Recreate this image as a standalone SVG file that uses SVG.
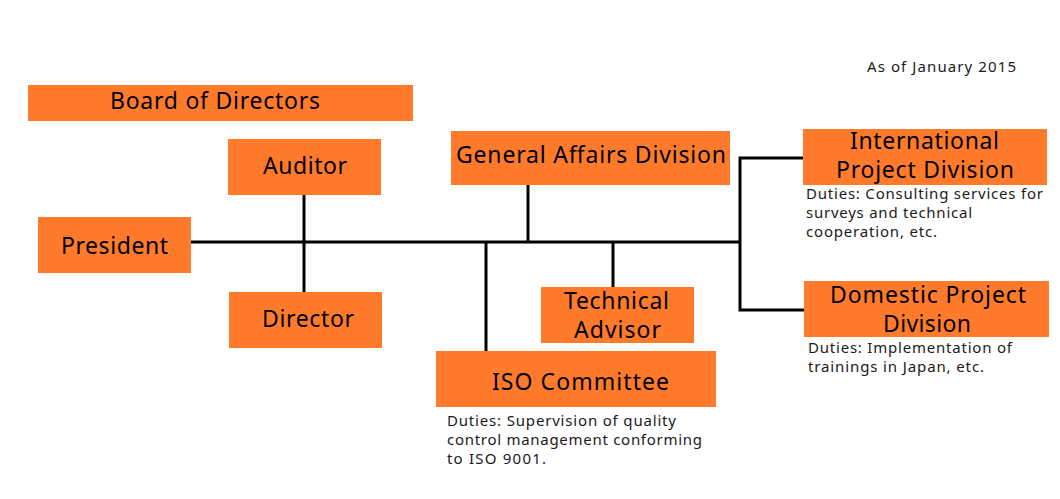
<svg xmlns="http://www.w3.org/2000/svg" width="1060" height="499" viewBox="0 0 1060 499">
<style>
.box{fill:#FF7A2B}
.lbl{font-family:"Noto Sans","DejaVu Sans",sans-serif;font-size:23px;fill:#000}
.note{font-family:"Noto Sans","DejaVu Sans",sans-serif;font-size:15px;fill:#1a1a1a}
.ln{stroke:#000;stroke-width:3;fill:none}
</style>
<rect width="1060" height="499" fill="#fff"/>
<text class="note" x="867" y="72" textLength="149">As of January 2015</text>
<g id="connectors">
<path class="ln" d="M191 242H740"/>
<path class="ln" d="M304 195V292"/>
<path class="ln" d="M528 185V242"/>
<path class="ln" d="M486 242V351"/>
<path class="ln" d="M613 242V287"/>
<path class="ln" d="M803 158H740V310H804"/>
</g>
<g id="board">
<rect class="box" x="28" y="85" width="385" height="36"/>
<text class="lbl" x="110" y="109" textLength="210">Board of Directors</text>
</g>
<g id="auditor">
<rect class="box" x="228" y="139" width="153" height="56"/>
<text class="lbl" x="263" y="174" textLength="84">Auditor</text>
</g>
<g id="president">
<rect class="box" x="38" y="217" width="153" height="56"/>
<text class="lbl" x="61" y="254" textLength="107">President</text>
</g>
<g id="director">
<rect class="box" x="229" y="292" width="153" height="56"/>
<text class="lbl" x="262" y="327" textLength="92">Director</text>
</g>
<g id="general-affairs">
<rect class="box" x="451" y="131" width="279" height="54"/>
<text class="lbl" x="456" y="163" textLength="270">General Affairs Division</text>
</g>
<g id="technical-advisor">
<rect class="box" x="541" y="287" width="153" height="56"/>
<text class="lbl" x="564" y="309" textLength="105">Technical</text>
<text class="lbl" x="574" y="338" textLength="87">Advisor</text>
</g>
<g id="iso-committee">
<rect class="box" x="436" y="351" width="280" height="56"/>
<text class="lbl" x="492" y="390" textLength="177">ISO Committee</text>
<text class="note" x="447" y="426" textLength="229">Duties: Supervision of quality</text>
<text class="note" x="447" y="445" textLength="255">control management conforming</text>
<text class="note" x="447" y="464" textLength="99">to ISO 9001.</text>
</g>
<g id="international">
<rect class="box" x="803" y="129" width="244" height="56"/>
<text class="lbl" x="850" y="149" textLength="149">International</text>
<text class="lbl" x="836" y="178" textLength="178">Project Division</text>
<text class="note" x="806" y="199" textLength="237">Duties: Consulting services for</text>
<text class="note" x="806" y="218" textLength="166">surveys and technical</text>
<text class="note" x="806" y="237" textLength="131">cooperation, etc.</text>
</g>
<g id="domestic">
<rect class="box" x="804" y="281" width="245" height="56"/>
<text class="lbl" x="830" y="303" textLength="196">Domestic Project</text>
<text class="lbl" x="883" y="332" textLength="88">Division</text>
<text class="note" x="808" y="353" textLength="204">Duties: Implementation of</text>
<text class="note" x="808" y="372" textLength="176">trainings in Japan, etc.</text>
</g>
</svg>
